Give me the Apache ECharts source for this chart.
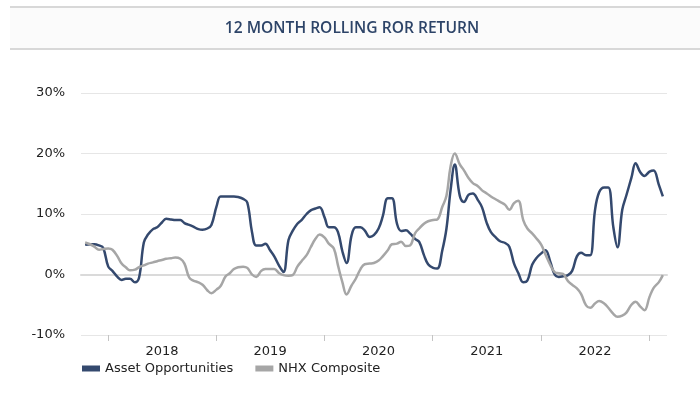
<!DOCTYPE html>
<html>
<head>
<meta charset="utf-8">
<script src="https://cdn.jsdelivr.net/npm/echarts@6/dist/echarts.min.js"></script>
<style>
html,body{margin:0;padding:0;background:#fff;}
#chart{width:700px;height:406px;}
</style>
</head>
<body>
<div id="chart"></div>
<script>
// Semi-monthly observation dates: 15th and 1st, from 2017-10-15 to 2023-02-15
const dates = [];
(function () {
  let y = 2017, m = 10;
  while (true) {
    dates.push(y + '-' + String(m).padStart(2, '0') + '-15');
    if (y === 2023 && m === 2) break;
    m++; if (m > 12) { m = 1; y++; }
    dates.push(y + '-' + String(m).padStart(2, '0') + '-01');
  }
})();

// Month boundaries spanning the axis (used for the year ticks)
const monthStarts = [];
(function () {
  let y = 2017, m = 10;
  while (true) {
    monthStarts.push(y + '-' + String(m).padStart(2, '0'));
    if (y === 2023 && m === 3) break;
    m++; if (m > 12) { m = 1; y++; }
  }
})();

const seriesNames = ['Asset Opportunities', 'NHX Composite'];

const assetOpportunities = [
  4.9, 5.0, 5.0, 4.8, 4.4, 1.3, 0.6, -0.4, -0.9, -0.7,
  -0.7, -1.3, -0.5, 5.3, 6.6, 7.5, 7.8, 8.6, 9.2, 9.1,
  9.0, 9.0, 8.5, 8.2, 7.9, 7.5, 7.4, 7.6, 8.2, 11.2,
  12.9, 12.9, 12.9, 12.9, 12.8, 12.5, 11.9, 7.0, 4.8, 4.8,
  5.1, 4.0, 3.0, 1.4, 0.4, 5.7, 7.2, 8.4, 9.0, 10.0,
  10.6, 10.9, 11.1, 9.4, 7.8, 7.8, 7.0, 3.8, 1.9, 6.5,
  7.8, 7.8, 7.3, 6.2, 6.5, 7.6, 9.6, 12.6, 12.6, 8.4,
  7.2, 7.3, 6.8, 5.9, 5.4, 3.2, 1.7, 1.1, 1.0, 4.0,
  7.6, 14.0, 18.2, 13.0, 12.0, 13.2, 13.4, 12.3, 11.1, 8.5,
  7.0, 6.1, 5.5, 5.2, 4.6, 1.8, 0.3, -1.3, -1.0, 1.6,
  2.7, 3.5, 4.0, 2.0, 0.0, -0.4, -0.3, -0.1, 0.6, 3.0,
  3.6, 3.2, 3.2, 10.6, 13.6, 14.4, 14.4, 7.8, 4.5, 10.7,
  13.1, 16.0, 18.4, 16.9, 16.3, 17.0, 17.2, 14.9, 12.9
];

const nhxComposite = [
  5.3, 5.0, 4.6, 4.1, 4.2, 4.3, 4.1, 3.0, 1.8, 1.2,
  0.7, 0.8, 1.2, 1.5, 1.8, 2.0, 2.2, 2.4, 2.6, 2.7,
  2.8, 2.6, 1.8, -0.5, -1.0, -1.3, -1.7, -2.6, -3.1, -2.5,
  -1.9, -0.3, 0.2, 0.9, 1.2, 1.3, 1.1, 0.0, -0.4, 0.6,
  0.9, 0.9, 0.9, 0.2, -0.1, -0.2, -0.1, 1.3, 2.2, 3.2,
  4.5, 5.9, 6.6, 6.1, 5.1, 4.3, 1.5, -1.3, -3.3, -1.8,
  -0.7, 0.9, 1.7, 1.8, 1.9, 2.3, 3.0, 4.0, 5.0, 5.1,
  5.4, 4.7, 4.8, 6.8, 7.6, 8.4, 8.8, 9.0, 9.1, 11.2,
  13.0, 17.9, 20.0, 18.2, 17.2, 15.9, 15.1, 14.6, 13.9, 13.4,
  12.9, 12.4, 12.0, 11.5, 10.7, 11.8, 12.2, 9.0, 7.6, 6.8,
  6.0, 4.9, 3.3, 1.5, 0.4, 0.2, 0.1, -1.1, -1.7, -2.3,
  -3.2, -5.1, -5.5, -4.8, -4.4, -4.8, -5.5, -6.5, -7.0, -6.8,
  -6.3, -5.0, -4.5, -5.3, -5.9, -3.7, -2.2, -1.3, -0.1
];

const yearLabelPositions = ['2018-07-01', '2019-07-01', '2020-07-01', '2021-07-01', '2022-07-01'];
const xRange = ['2017-10-01', '2023-03-01'];
const yTicks = { min: -10, max: 30, interval: 10 };
const titleText = '12 MONTH ROLLING ROR RETURN';

const ts = (d) => Date.parse(d + 'T00:00:00Z');

const chart = echarts.init(document.getElementById('chart'), null, { renderer: 'canvas' });

const pair = (arr) => arr.map((v, i) => [ts(dates[i]), v]);

const option = {
  animation: false,
  backgroundColor: '#ffffff',
  graphic: [
    { type: 'rect', shape: { x: 10, y: 7, width: 690, height: 42 }, style: { fill: '#fbfbfb' }, silent: true },
    { type: 'rect', shape: { x: 10, y: 6, width: 690, height: 2 }, style: { fill: '#d8d8d8' }, silent: true },
    { type: 'rect', shape: { x: 10, y: 48, width: 690, height: 2 }, style: { fill: '#d8d8d8' }, silent: true },
    { type: 'text', x: 352, y: 29, style: { text: titleText, fill: '#2d4468', font: '600 15.6px "Open Sans"', align: 'center', verticalAlign: 'middle' }, silent: true }
  ],
  legend: {
    data: seriesNames,
    left: 77,
    top: 357,
    icon: 'rect',
    itemWidth: 18,
    itemHeight: 6,
    itemGap: 22,
    textStyle: { fontFamily: 'DejaVu Sans', fontSize: 13, color: '#222' }
  },
  grid: { left: 81, right: 33, top: 93, bottom: 71, containLabel: false },
  xAxis: [
    {
      type: 'value',
      min: ts(xRange[0]),
      max: ts(xRange[1]),
      axisLine: { lineStyle: { color: '#dadada', width: 2 } },
      axisTick: { show: false },
      axisLabel: {
        customValues: yearLabelPositions.map(ts),
        formatter: (v) => String(new Date(v).getUTCFullYear()),
        fontFamily: 'DejaVu Sans', fontSize: 13, color: '#222', margin: 10
      },
      splitLine: { show: false }
    },
    {
      type: 'category',
      position: 'bottom',
      offset: 0,
      boundaryGap: false,
      data: monthStarts,
      axisLine: { show: false },
      axisLabel: { show: false },
      splitLine: { show: false },
      axisTick: {
        show: true, length: 6,
        interval: (idx, val) => val.slice(5) === '01',
        lineStyle: { color: '#c4c4c4', width: 1 }
      }
    }
  ],
  yAxis: {
    type: 'value',
    min: yTicks.min, max: yTicks.max, interval: yTicks.interval,
    axisLine: { show: false },
    axisTick: { show: false },
    axisLabel: { formatter: '{value}%', fontFamily: 'DejaVu Sans', fontSize: 13, color: '#222', margin: 16 },
    splitLine: { lineStyle: { color: '#e6e6e6', width: 1 } }
  },
  series: [
    {
      name: seriesNames[0], type: 'line', xAxisIndex: 0, data: pair(assetOpportunities),
      showSymbol: false, symbol: 'none', smooth: 0.4,
      lineStyle: { color: '#34496e', width: 2.5 }, itemStyle: { color: '#34496e' }
    },
    {
      name: seriesNames[1], type: 'line', xAxisIndex: 0, data: pair(nhxComposite),
      showSymbol: false, symbol: 'none', smooth: 0.4,
      lineStyle: { color: '#a6a6a6', width: 2.5 }, itemStyle: { color: '#a6a6a6' }
    }
  ]
};
chart.setOption(option);
</script>
</body>
</html>
